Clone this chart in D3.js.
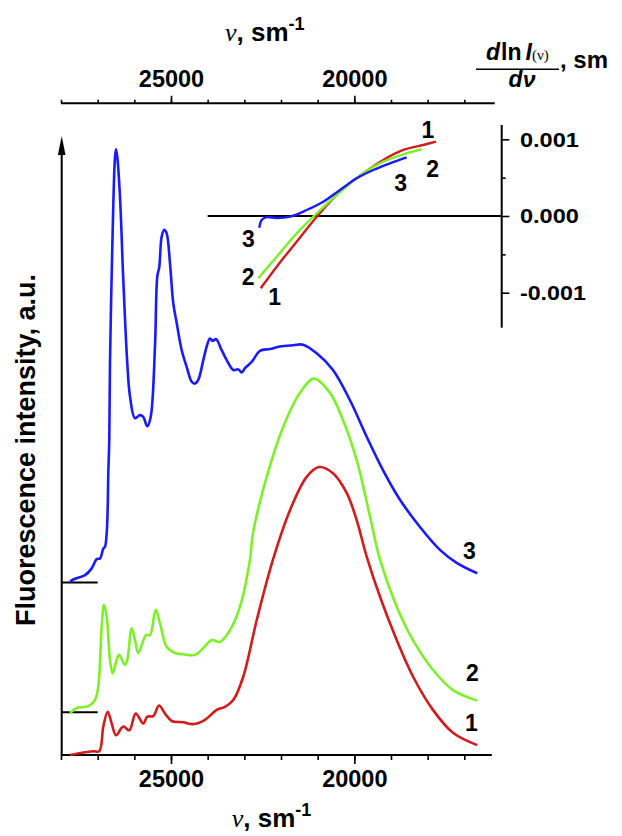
<!DOCTYPE html>
<html><head><meta charset="utf-8">
<script src="https://cdn.jsdelivr.net/npm/d3@7"></script>
<style>
body{margin:0;background:#fff}
svg{display:block}
text{font-family:"Liberation Sans",Arial,sans-serif;font-weight:bold;fill:#000}
</style>
</head><body><svg id="c" width="622" height="836"></svg>
<script>
// ---------------- DATA ----------------
const minorTicks = [28000,27000,26000,25000,24000,23000,22000,21000,20000,19000,18000,17000];
const majorTicks = [25000,20000];
const curveNames = ["1","2","3"];
const curveColors = ["#d01c1c","#7ef02a","#1a1aff"];
const baselineLevels = [0, 6.9, 27.9];   // a.u. offsets of curves 1,2,3

// curve 1 (red)
const nu1 = [27755,27392,27119,26956,26846,26726,26617,26500,26301,26137,25963,25756,25647,25483,25327,25164,24981,24665,24392,24073,23754,23528,23301,23028,22663,22219,21755,21300,20964,20582,20209,19936,19663,19300,18845,18401,17856,17310,16647];
const int1 = [0,0.4,0.6,0.6,4.6,7.0,5.1,3.2,4.6,4.0,6.7,5.1,6.2,6.3,8.0,6.7,5.5,5.3,5.0,5.7,7.3,7.8,8.9,12.7,21.8,31.6,39.6,45.0,46.6,45.6,42.4,38.0,32.1,25.6,18.6,12.7,7.3,3.6,1.6];
// curve 2 (green)
const nu2 = [27755,27572,27255,27073,26983,26890,26827,26754,26664,26590,26500,26418,26255,26192,26072,25982,25892,25682,25573,25418,25300,25118,24891,24665,24346,24119,23890,23664,23391,23119,22846,22764,22390,21938,21482,21100,20664,20310,19936,19573,19300,18845,18401,17856,17310,16647];
const int2 = [6.8,7.6,7.9,8.9,11.1,20.8,24.3,22.4,15.4,13.2,15.0,16.2,14.6,15.4,20.5,18.6,16.5,19.4,19.4,23.5,21.3,17.5,16.5,16.3,16.2,17.3,18.6,18.3,20.2,24.0,31.6,35.9,45.0,53.1,58.6,60.9,58.6,54.2,47.7,38.6,31.6,24.0,18.6,13.8,10.5,8.8];
// curve 3 (blue)
const nu3 = [27755,27665,27345,27163,27026,26936,26846,26800,26754,26726,26710,26683,26664,26590,26527,26500,26465,26391,26301,26192,26118,25982,25846,25756,25647,25554,25437,25374,25319,25254,25183,25118,25028,24938,24845,24708,24572,24436,24346,24256,24119,24027,23937,23863,23773,23618,23481,23301,23165,23072,22982,22800,22573,22300,22028,21665,21400,21027,20583,20119,19663,19219,18755,18210,17665,17209,16647];
const int3 = [28.0,28.4,29.1,30.2,31.7,31.8,33.4,33.7,35.9,40.2,45.6,51.0,63.4,85.0,96.8,98.0,96.8,90.3,76.9,63.4,58.0,54.5,55.0,54.7,53.2,54.7,66.1,77.4,79.0,83.9,85.0,84.4,79.6,73.1,69.9,65.5,62.8,60.4,60.1,60.7,63.9,66.1,67.4,67.0,67.3,65.5,63.9,62.3,62.4,61.9,62.6,63.6,65.4,65.7,66.1,66.3,66.4,65.0,62.3,57.4,51.5,46.1,41.3,36.9,33.2,31.1,29.4];

// inset: d ln I / d nu
const dNu1 = [22554,22118,21573,20984,20392,19756,19211,18665,18120,17774];
const dVal1 = [-0.000943,-0.000661,-0.000335,0.000013,0.000317,0.000557,0.000730,0.000861,0.000926,0.000969];
const dNu2 = [22620,22118,21573,21073,20482,19756,19211,18665,18164];
const dVal2 = [-0.000812,-0.000531,-0.000226,0.000013,0.000274,0.000557,0.000708,0.000804,0.000870];
const dNu3 = [22592,22527,22410,22118,21755,21300,20847,20392,19936,19483,19028,18573];
const dVal3 = [-0.000153,-0.000052,-0.000017,-0.000026,-0.000009,0.000078,0.000186,0.000339,0.000492,0.000600,0.000687,0.000765];
const insetTicks = [-0.001,0,0.001];
const insetMinor = [-0.0005,0.0005];

// ---------------- LAYOUT ----------------
const svg = d3.select("#c");
const x = d3.scaleLinear().domain([28000,16000]).range([61,501]);
const y = d3.scaleLinear().domain([0,100]).range([755,137]);
const yi = d3.scaleLinear().domain([-0.001,0.001]).range([292.7,139.3]);
const axisEndNu = 16250, topEndNu = 16170;

const line = d3.line().x(d=>x(d[0])).y(d=>y(d[1])).curve(d3.curveCatmullRom.alpha(0.5));
const lineI = d3.line().x(d=>x(d[0])).y(d=>yi(d[1])).curve(d3.curveCatmullRom.alpha(0.5));

const mains = [d3.zip(nu1,int1), d3.zip(nu2,int2), d3.zip(nu3,int3)];
const insets = [d3.zip(dNu1,dVal1), d3.zip(dNu2,dVal2), d3.zip(dNu3,dVal3)];

// bottom axis
const gb = svg.append("g").attr("transform","translate(0,755)");
gb.call(d3.axisBottom(x).tickValues(minorTicks).tickSize(5).tickSizeOuter(0).tickFormat(""));
gb.call(g=>g.select(".domain").remove());
const gb2 = svg.append("g").attr("transform","translate(0,755)");
gb2.call(d3.axisBottom(x).tickValues(majorTicks).tickSize(9).tickPadding(6).tickFormat(d3.format("d")));
gb2.select(".domain").remove();
gb2.selectAll("text").style("font-size","23.5px").style("font-family","Liberation Sans").style("font-weight","bold");
svg.append("line").attr("x1",x(28000)).attr("x2",x(axisEndNu)).attr("y1",755).attr("y2",755).attr("stroke","#000").attr("stroke-width",2);

// top axis
const gt = svg.append("g").attr("transform","translate(0,103.3)");
gt.call(d3.axisTop(x).tickValues(minorTicks).tickSize(3.5).tickSizeOuter(0).tickFormat(""));
gt.select(".domain").remove();
const gt2 = svg.append("g").attr("transform","translate(0,103.3)");
gt2.call(d3.axisTop(x).tickValues(majorTicks).tickSize(7.5).tickPadding(8.5).tickFormat(d3.format("d")));
gt2.select(".domain").remove();
gt2.selectAll("text").style("font-size","23.5px").style("font-family","Liberation Sans").style("font-weight","bold");
svg.append("line").attr("x1",x(28000)).attr("x2",x(topEndNu)).attr("y1",103.3).attr("y2",103.3).attr("stroke","#000").attr("stroke-width",2);
svg.selectAll(".tick line").attr("stroke","#000").attr("stroke-width",1.6);

// left axis with arrow
svg.append("line").attr("x1",61.7).attr("x2",61.7).attr("y1",756).attr("y2",150).attr("stroke","#000").attr("stroke-width",2);
svg.append("path").attr("d","M61.7,136 L57.9,155 L65.5,155 Z").attr("fill","#000");

// baseline markers
svg.selectAll(".base").data(baselineLevels.slice(1)).enter().append("line")
  .attr("x1",x(28000)).attr("x2",x(27000)).attr("y1",d=>y(d)).attr("y2",d=>y(d))
  .attr("stroke","#000").attr("stroke-width",2);

// main curves
svg.selectAll(".curve").data(mains).enter().append("path")
  .attr("d",line).attr("fill","none").attr("stroke",(d,i)=>curveColors[i]).attr("stroke-width",2.6).attr("stroke-linejoin","round");

// main curve labels
const mainLabelOff = [[-6,-22],[-5,-28],[-8,-23]];
svg.selectAll(".mlab").data(mains).enter().append("text")
  .attr("x",(d,i)=>x(d[d.length-1][0])+mainLabelOff[i][0])
  .attr("y",(d,i)=>y(d[d.length-1][1])+mainLabelOff[i][1])
  .attr("dy","0.36em").attr("text-anchor","middle").style("font-size","23px")
  .text((d,i)=>curveNames[i]);

// inset zero line and right axis
svg.append("line").attr("x1",x(24000)).attr("x2",x(16000)).attr("y1",yi(0)).attr("y2",yi(0)).attr("stroke","#000").attr("stroke-width",2);
svg.append("line").attr("x1",501.7).attr("x2",501.7).attr("y1",125).attr("y2",327.7).attr("stroke","#000").attr("stroke-width",2);
const gi = svg.append("g").attr("transform","translate(501.7,0)");
gi.call(d3.axisRight(yi).tickValues(insetTicks).tickSize(7.7).tickPadding(10.5).tickFormat(d=>d.toFixed(3)));
gi.select(".domain").remove();
gi.selectAll("text").style("font-size","21px").style("font-family","Liberation Sans").style("font-weight","bold").attr("textLength",d=>d<0?66:59).attr("lengthAdjust","spacingAndGlyphs");
gi.selectAll("line").attr("stroke","#000").attr("stroke-width",1.6);
const gi2 = svg.append("g").attr("transform","translate(501.7,0)");
gi2.call(d3.axisRight(yi).tickValues(insetMinor).tickSize(4).tickFormat(""));
gi2.select(".domain").remove();
gi2.selectAll("line").attr("stroke","#000").attr("stroke-width",1.6);

// inset curves
svg.selectAll(".icurve").data(insets).enter().append("path")
  .attr("d",lineI).attr("fill","none").attr("stroke",(d,i)=>curveColors[i]).attr("stroke-width",2.4).attr("stroke-linejoin","round");

// inset labels (ends and starts)
const endOff = [[-8,-12],[11,19],[-6,25]];
const startOff = [[14,8],[-10,-2],[-11,11]];
svg.selectAll(".ilabE").data(insets).enter().append("text")
  .attr("x",(d,i)=>x(d[d.length-1][0])+endOff[i][0])
  .attr("y",(d,i)=>yi(d[d.length-1][1])+endOff[i][1])
  .attr("dy","0.36em").attr("text-anchor","middle").style("font-size","23px").text((d,i)=>curveNames[i]);
svg.selectAll(".ilabS").data(insets).enter().append("text")
  .attr("x",(d,i)=>x(d[0][0])+startOff[i][0])
  .attr("y",(d,i)=>yi(d[0][1])+startOff[i][1])
  .attr("dy","0.36em").attr("text-anchor","middle").style("font-size","23px").text((d,i)=>curveNames[i]);

// axis titles
function nuTitle(xx,yy){
  const t = svg.append("text").attr("x",xx).attr("y",yy).style("font-size","26px");
  t.append("tspan").text("ν").style("font-family","Liberation Serif").style("font-weight","normal").style("font-style","italic");
  t.append("tspan").text(", sm");
  t.append("tspan").text("-1").attr("dy",-11).style("font-size","18px");
}
nuTitle(225,40.7);
nuTitle(231.7,827);

svg.append("text").attr("transform","translate(35,450) rotate(-90)").attr("text-anchor","middle")
  .style("font-size","27px").text("Fluorescence intensity, a.u.");

// derivative label
const num = svg.append("text").attr("x",486).attr("y",60).style("font-size","23px");
num.append("tspan").text("d").style("font-style","italic");
num.append("tspan").text("ln").attr("dx",1);
num.append("tspan").text("I").style("font-style","italic").attr("dx",4);
num.append("tspan").text("(ν)").style("font-size","15px").style("font-weight","normal").style("font-family","Liberation Serif");
svg.append("line").attr("x1",476).attr("x2",559).attr("y1",69.3).attr("y2",69.3).attr("stroke","#000").attr("stroke-width",1.5);
svg.append("text").attr("x",522).attr("y",86.7).attr("text-anchor","middle").style("font-size","23px").style("font-style","italic").text("dν");
svg.append("text").attr("x",560).attr("y",68.3).style("font-size","24px").text(", sm");
</script>
</body></html>
